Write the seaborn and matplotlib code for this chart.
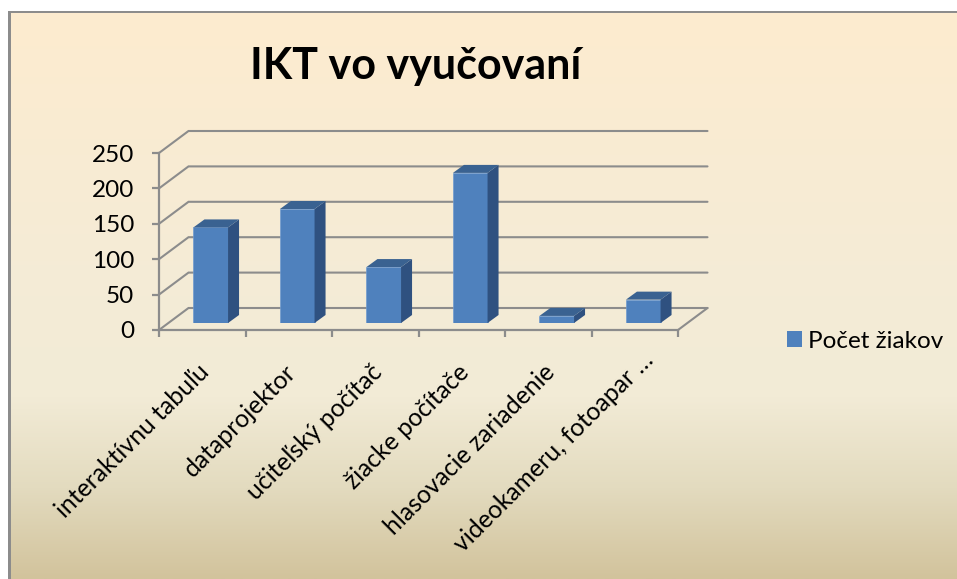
import numpy as np
import pandas as pd
import seaborn as sns
import matplotlib
matplotlib.use('Agg')
import matplotlib.pyplot as plt
from matplotlib.colors import LinearSegmentedColormap
from matplotlib.patches import Polygon, Rectangle
from matplotlib.transforms import ScaledTranslation

categories = ['interaktívnu tabuľu', 'dataprojektor', 'učiteľský počítač',
              'žiacke počítače', 'hlasovacie zariadenie', 'videokameru, fotoapar …']
values = [135, 161, 79, 212, 10, 33]
y_ticks = [0, 50, 100, 150, 200, 250]
series_name = 'Počet žiakov'
chart_title = 'IKT vo vyučovaní'

W, H = 957, 579
GRAY = '#8c8c8c'
FRONT = '#4f81bd'
SIDE = '#2f5180'
TOP = '#3a6291'


def box(left, top, right, bottom):
    # pixel box (from top left) to figure fractions
    return [left / W, 1 - bottom / H, (right - left) / W, (bottom - top) / H]


sns.set_theme(style='white')
plt.rcParams['font.family'] = ['Lato', 'DejaVu Sans']
plt.rcParams['text.color'] = 'black'

fig = plt.figure(figsize=(W / 100, H / 100), dpi=100, facecolor='white')

# background panel with the vertical gradient
bg = fig.add_axes(box(11, 13, W, H), zorder=0)
cmap = LinearSegmentedColormap.from_list('panel', [
    (0.0, '#fdebcf'), (0.5, '#f4ecd7'), (0.68, '#f2ebd6'),
    (0.84, '#e3dbbf'), (1.0, '#d2c39c')])
bg.imshow(np.linspace(0, 1, 256).reshape(-1, 1), cmap=cmap, aspect='auto')
bg.axis('off')
fig.add_artist(Rectangle((8 / W, 0), 3 / W, 1 - 11 / H, transform=fig.transFigure,
                         color=GRAY, lw=0, zorder=1))
fig.add_artist(Rectangle((8 / W, 1 - 13 / H), 1 - 8 / W, 2 / H, transform=fig.transFigure,
                         color=GRAY, lw=0, zorder=1))

# front plane: axes, ticks and the walls behind the bars
ax = fig.add_axes(box(159, 153, 678, 330), zorder=2)
ax.patch.set_alpha(0)
ax.set_xlim(-0.5, len(categories) - 0.5)
ax.set_ylim(0, 250)
unit_x = (678 - 159) / len(categories)
unit_y = (330 - 153) / 250
wall_dx = 29.5 / unit_x
wall_dy = 22 / unit_y
x0, x1 = ax.get_xlim()
for v in y_ticks:
    ax.plot([x0, x0 + wall_dx, x1 + wall_dx], [v, v + wall_dy, v + wall_dy],
            color=GRAY, lw=1.5, clip_on=False, solid_joinstyle='miter')
ax.plot([x1, x1 + wall_dx], [0, wall_dy], color=GRAY, lw=1.5, clip_on=False)

for side in ['top', 'right']:
    ax.spines[side].set_visible(False)
for side in ['left', 'bottom']:
    ax.spines[side].set_color(GRAY)
    ax.spines[side].set_linewidth(1.6)
ax.set_yticks(y_ticks)
ax.set_xticks(range(len(categories)))
ax.set_xticklabels(categories, rotation=45, ha='right', rotation_mode='anchor')
ax.set_xticks(np.arange(x0, x1 + 0.5), minor=True)
ax.tick_params(axis='x', which='major', length=0, pad=21.5, labelsize=17.8, labelcolor='black')
ax.tick_params(axis='x', which='minor', length=5, width=1.6, color=GRAY, bottom=True)
ax.tick_params(axis='y', length=5, width=1.6, color=GRAY, left=True, labelsize=17.5, pad=13,
               labelcolor='black')
ax.set_xlabel('')
# rotated labels hang a bit further left than the axis offset gives
shift = ScaledTranslation(-5 / 100, 0, fig.dpi_scale_trans)
last_shift = ScaledTranslation(12 / 100, 12 / 100, fig.dpi_scale_trans)
for i, lab in enumerate(ax.get_xticklabels()):
    trans = lab.get_transform() + shift
    if i == len(categories) - 1:
        trans = trans + last_shift
    lab.set_transform(trans)

# bars sit a little inside the floor, so they get their own shifted axes
bars_ax = fig.add_axes(box(167.5, 146, 686.5, 323), zorder=3)
bars_ax.patch.set_alpha(0)
df = pd.DataFrame({'kategoria': categories, 'pocet': values, 'seria': series_name})
sns.barplot(data=df, x='kategoria', y='pocet', hue='seria', palette=[FRONT], width=0.4,
            dodge=False, saturation=1, ax=bars_ax, edgecolor='#6f9bd0', linewidth=0.5, legend=True)
bars_ax.set_xlim(ax.get_xlim())
bars_ax.set_ylim(ax.get_ylim())
bars_ax.axis('off')
depth_dx = 11 / unit_x
depth_dy = 8 / unit_y
for bar in list(bars_ax.patches):
    if bar.get_height() <= 0:
        continue
    left, right = bar.get_x(), bar.get_x() + bar.get_width()
    h = bar.get_height()
    bars_ax.add_patch(Polygon([(right, 0), (right + depth_dx, depth_dy),
                               (right + depth_dx, h + depth_dy), (right, h)],
                              facecolor=SIDE, edgecolor='none', clip_on=False))
    bars_ax.add_patch(Polygon([(left, h), (left + depth_dx, h + depth_dy),
                               (right + depth_dx, h + depth_dy), (right, h)],
                              facecolor=TOP, edgecolor='none', clip_on=False))

handles, labels = bars_ax.get_legend_handles_labels()
bars_ax.get_legend().remove()
leg = fig.legend(handles, labels, loc='center left', bbox_to_anchor=(787 / W, 1 - 341 / H),
                 frameon=False, fontsize=17.5, handlelength=0.62, handleheight=0.62,
                 handletextpad=0.25, borderpad=0, borderaxespad=0)
for h in leg.get_patches():
    h.set_linewidth(0)

fig.suptitle(chart_title, x=416 / W, y=1 - 66 / H, va='center', ha='center',
             fontsize=31, fontweight='bold', color='black')

fig.savefig('out.png', dpi=100)
